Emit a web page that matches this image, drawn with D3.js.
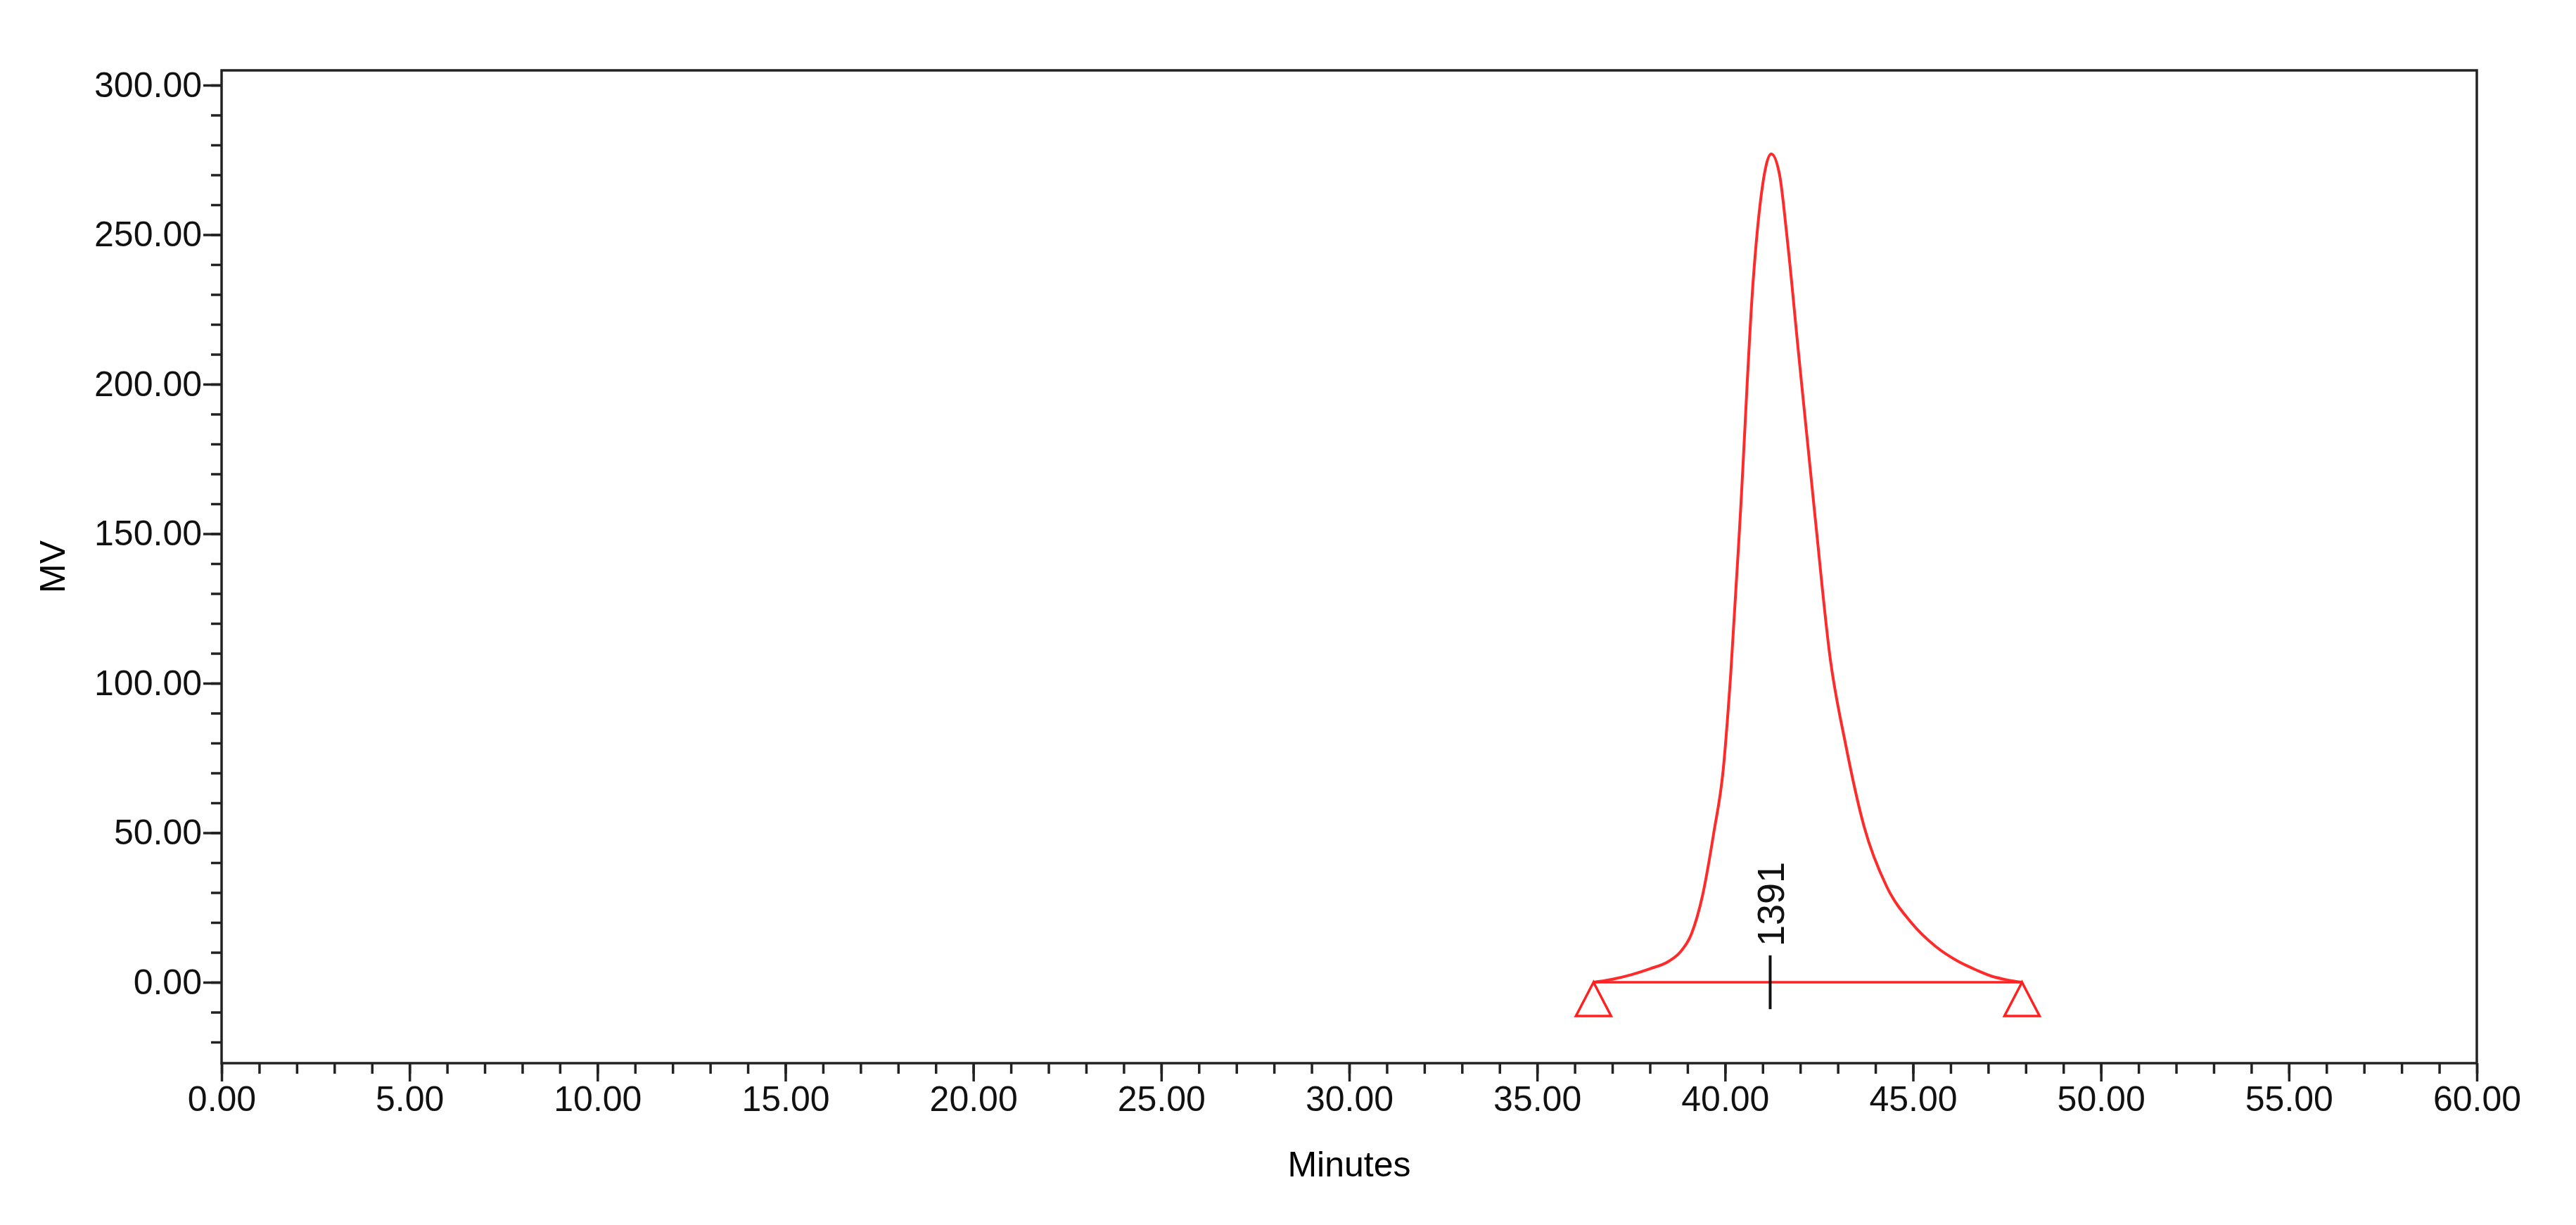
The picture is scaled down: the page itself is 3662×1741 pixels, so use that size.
<!DOCTYPE html>
<html><head><meta charset="utf-8">
<script src="https://cdn.jsdelivr.net/npm/d3@7"></script>
<style>body{margin:0;background:#fff}text{font-family:"Liberation Sans",Arial,sans-serif}</style>
</head><body><svg id="c" width="3662" height="1741"></svg>
<script>
const xTicks=[0,5,10,15,20,25,30,35,40,45,50,55,60];
const yTicks=[0,50,100,150,200,250,300];
const timeMin=[36.5,37,37.5,38,38.5,38.8,39.1,39.4,39.7,39.95,40.15,40.4,40.75,40.95,41.23,41.45,41.65,41.95,42.4,42.8,43.2,43.7,44.3,44.95,45.6,46.2,46.7,47.1,47.5,47.9];
const signalMV=[0,1,2.5,4.5,7,10,16,29,50,71,103,155,235,262,277,270,249,211,155,108,80,52,32,20,12,7,4,2,0.8,0];
const baseline=[[36.5,0],[47.9,0]];
const peakLabel="1391", peakTime=41.2;

const L=315,R=3521,T=100,B=1511;
const svg=d3.select("#c");
const x=d3.scaleLinear().domain([0,60]).range([L,R]);
const y=d3.scaleLinear().domain([0,300]).range([1396,121]);
y.domain([y.invert(B),y.invert(T)]).range([B,T]);

svg.append("rect").attr("x",L).attr("y",T).attr("width",R-L).attr("height",B-T).attr("fill","none").attr("stroke","#222").attr("stroke-width",3.5);
const minorX=d3.range(0,60.01,1), minorY=d3.range(-20,301,10);
const g=svg.append("g");
g.append("g").attr("transform",`translate(0,${B})`).call(d3.axisBottom(x).tickValues(minorX).tickSize(15).tickFormat("")).call(a=>a.select(".domain").remove());
g.append("g").attr("transform",`translate(0,${B})`).call(d3.axisBottom(x).tickValues(xTicks).tickSize(26).tickPadding(6).tickFormat(d3.format(".2f"))).call(a=>a.select(".domain").remove());
g.append("g").attr("transform",`translate(${L},0)`).call(d3.axisLeft(y).tickValues(minorY).tickSize(15).tickFormat("")).call(a=>a.select(".domain").remove());
g.append("g").attr("transform",`translate(${L},0)`).call(d3.axisLeft(y).tickValues(yTicks).tickSize(26).tickPadding(2).tickFormat(d3.format(".2f"))).call(a=>a.select(".domain").remove());
g.selectAll(".tick line").attr("stroke","#222").attr("stroke-width",3.5);
g.selectAll(".tick text").attr("font-size",50).attr("fill","#111").attr("font-family","Liberation Sans, Arial, sans-serif");

svg.append("text").attr("x",(L+R)/2).attr("y",1672).attr("text-anchor","middle").attr("font-size",50).text("Minutes");
svg.append("text").attr("transform",`translate(92,${(T+B)/2}) rotate(-90)`).attr("text-anchor","middle").attr("font-size",50).text("MV");

const line=d3.line().x((d,i)=>x(timeMin[i])).y(d=>y(d)).curve(d3.curveMonotoneX);
svg.append("path").attr("d",line(signalMV)).attr("fill","none").attr("stroke","#ff2a2a").attr("stroke-width",4);
svg.append("path").attr("d",d3.line().x(d=>x(d[0])).y(d=>y(d[1]))(baseline)).attr("stroke","#ff2020").attr("stroke-width",3.5);
baseline.forEach(b=>{
  const cx=x(b[0]),cy=y(b[1]);
  svg.append("path").attr("d",`M${cx},${cy}L${cx-25},${cy+48}L${cx+25},${cy+48}Z`).attr("fill","none").attr("stroke","#ff2020").attr("stroke-width",3.5);
});
svg.append("line").attr("x1",x(peakTime)).attr("x2",x(peakTime)).attr("y1",y(9)).attr("y2",y(-9)).attr("stroke","#111").attr("stroke-width",4);
svg.append("text").attr("transform",`translate(${x(peakTime)+20},${y(12)}) rotate(-90)`).attr("font-size",54).attr("fill","#111").text(peakLabel);
</script></body></html>
